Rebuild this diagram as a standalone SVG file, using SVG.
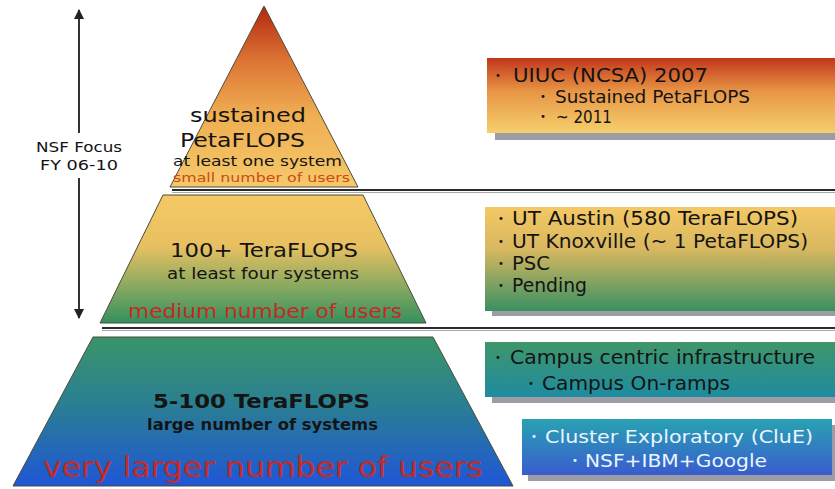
<svg xmlns="http://www.w3.org/2000/svg" width="835" height="489" viewBox="0 0 835 489">
<defs>
<linearGradient id="gTop" x1="0" y1="0" x2="0" y2="1">
<stop offset="0" stop-color="#b3260f"/>
<stop offset="0.3" stop-color="#dc7434"/>
<stop offset="0.6" stop-color="#efae52"/>
<stop offset="1" stop-color="#f5c96a"/>
</linearGradient>
<linearGradient id="gMid" x1="0" y1="0" x2="0" y2="1">
<stop offset="0" stop-color="#f5c865"/>
<stop offset="0.4" stop-color="#e8c061"/>
<stop offset="0.75" stop-color="#7ea660"/>
<stop offset="1" stop-color="#33905e"/>
</linearGradient>
<linearGradient id="gBot" x1="0" y1="0" x2="0" y2="1">
<stop offset="0" stop-color="#3a946a"/>
<stop offset="0.45" stop-color="#2a7f92"/>
<stop offset="1" stop-color="#1f56d6"/>
</linearGradient>
<linearGradient id="gB1" x1="0" y1="0" x2="0" y2="1">
<stop offset="0" stop-color="#c2361a"/>
<stop offset="0.45" stop-color="#e89646"/>
<stop offset="1" stop-color="#f6cf6c"/>
</linearGradient>
<linearGradient id="gB2" x1="0" y1="0" x2="0" y2="1">
<stop offset="0" stop-color="#f4c864"/>
<stop offset="0.4" stop-color="#d9b860"/>
<stop offset="1" stop-color="#3a9062"/>
</linearGradient>
<linearGradient id="gB3" x1="0" y1="0" x2="0" y2="1">
<stop offset="0" stop-color="#3f966a"/>
<stop offset="1" stop-color="#1e8ca0"/>
</linearGradient>
<linearGradient id="gB4" x1="0" y1="0" x2="0" y2="1">
<stop offset="0" stop-color="#28a2b2"/>
<stop offset="1" stop-color="#3a5ccf"/>
</linearGradient>
<marker id="arr" viewBox="0 0 10 10" refX="9" refY="5" markerWidth="10" markerHeight="10" markerUnits="userSpaceOnUse" orient="auto">
<path d="M0,0 L10,5 L0,10 z" fill="#222"/>
</marker>
<style>
text{font-family:"DejaVu Sans","Liberation Sans",sans-serif;fill:#141414}
.tier{stroke:#4b4b3c;stroke-width:1}
.red{fill:#c42a26}
.org{fill:#cf4a16}
.wht{fill:#eaf6ff}
.shadow{fill:#9c9ca4}
.sep{stroke:#2a2a2a;stroke-width:2}
.sep2{stroke:#a8a8a8;stroke-width:1}
.bul{font-size:10px}
</style>
</defs>

<g id="focus">
<line x1="79" y1="318" x2="79" y2="178" stroke="#333" stroke-width="2" marker-end="url(#arr)" transform="rotate(180 79 248)"/>
<line x1="79" y1="133" x2="79" y2="10" stroke="#333" stroke-width="2" marker-end="url(#arr)"/>
<text x="79" y="152" font-size="14" text-anchor="middle" textLength="86" lengthAdjust="spacingAndGlyphs">NSF Focus</text>
<text x="79" y="170" font-size="14" text-anchor="middle" textLength="78" lengthAdjust="spacingAndGlyphs">FY 06-10</text>
</g>

<g id="connectors">
<line class="sep" x1="172" y1="190" x2="835" y2="190"/>
<line class="sep2" x1="172" y1="192.5" x2="835" y2="192.5"/>
<line class="sep" x1="102" y1="328" x2="835" y2="328"/>
<line class="sep2" x1="102" y1="330.5" x2="835" y2="330.5"/>
</g>

<g id="tier-top">
<polygon class="tier" points="264,6 358,187 170,187" fill="url(#gTop)"/>
<text x="190" y="122" font-size="19" textLength="116" lengthAdjust="spacingAndGlyphs">sustained</text>
<text x="180" y="147" font-size="20" textLength="125" lengthAdjust="spacingAndGlyphs">PetaFLOPS</text>
<text x="173" y="166" font-size="14" textLength="169" lengthAdjust="spacingAndGlyphs">at least one system</text>
<text class="org" x="173" y="182" font-size="13" textLength="177" lengthAdjust="spacingAndGlyphs">small number of users</text>
</g>

<g id="tier-mid">
<polygon class="tier" points="163,195 363,195 426,323 100,323" fill="url(#gMid)"/>
<text x="170" y="257" font-size="20" textLength="188" lengthAdjust="spacingAndGlyphs">100+ TeraFLOPS</text>
<text x="167" y="279" font-size="16" textLength="192" lengthAdjust="spacingAndGlyphs">at least four systems</text>
<text class="red" x="128" y="318" font-size="20" textLength="274" lengthAdjust="spacingAndGlyphs">medium number of users</text>
</g>

<g id="tier-bottom">
<polygon class="tier" points="93,337 433,337 513,486 13,486" fill="url(#gBot)"/>
<text x="153" y="408" font-size="19" font-weight="bold" textLength="217" lengthAdjust="spacingAndGlyphs">5-100 TeraFLOPS</text>
<text x="147" y="430" font-size="15" font-weight="bold" textLength="231" lengthAdjust="spacingAndGlyphs">large number of systems</text>
<text class="red" x="43" y="477" font-size="29" textLength="440" lengthAdjust="spacingAndGlyphs">very larger number of users</text>
</g>

<g id="box-petascale">
<rect class="shadow" x="495" y="64" width="345" height="76"/>
<rect x="487" y="58" width="350" height="75" fill="url(#gB1)"/>
<text class="bul" x="495" y="79">•</text>
<text x="513" y="82" font-size="20" textLength="195" lengthAdjust="spacingAndGlyphs">UIUC (NCSA) 2007</text>
<text class="bul" x="540" y="100">•</text>
<text x="555" y="103" font-size="17" textLength="195" lengthAdjust="spacingAndGlyphs">Sustained PetaFLOPS</text>
<text class="bul" x="540" y="120">•</text>
<text x="556" y="123" font-size="17" textLength="56" lengthAdjust="spacingAndGlyphs">~ 2011</text>
</g>

<g id="box-tera">
<rect class="shadow" x="492" y="213" width="345" height="103"/>
<rect x="485" y="207" width="352" height="104" fill="url(#gB2)"/>
<text class="bul" x="498" y="222">•</text>
<text x="512" y="225" font-size="19" textLength="286" lengthAdjust="spacingAndGlyphs">UT Austin (580 TeraFLOPS)</text>
<text class="bul" x="498" y="245">•</text>
<text x="512" y="248" font-size="19" textLength="296" lengthAdjust="spacingAndGlyphs">UT Knoxville (~ 1 PetaFLOPS)</text>
<text class="bul" x="498" y="267">•</text>
<text x="512" y="270" font-size="19" textLength="38" lengthAdjust="spacingAndGlyphs">PSC</text>
<text class="bul" x="498" y="289">•</text>
<text x="512" y="292" font-size="19" textLength="75" lengthAdjust="spacingAndGlyphs">Pending</text>
</g>

<g id="box-campus">
<rect class="shadow" x="492" y="348" width="345" height="55"/>
<rect x="485" y="342" width="352" height="55" fill="url(#gB3)"/>
<text class="bul" x="495" y="361">•</text>
<text x="510" y="364" font-size="19" textLength="305" lengthAdjust="spacingAndGlyphs">Campus centric infrastructure</text>
<text class="bul" x="528" y="387">•</text>
<text x="542" y="390" font-size="19" textLength="188" lengthAdjust="spacingAndGlyphs">Campus On-ramps</text>
</g>

<g id="box-clue">
<rect class="shadow" x="528" y="425" width="307" height="56"/>
<rect x="522" y="419" width="310" height="56" fill="url(#gB4)"/>
<text class="bul wht" x="531" y="440">•</text>
<text class="wht" x="545" y="443" font-size="18" textLength="268" lengthAdjust="spacingAndGlyphs">Cluster Exploratory (CluE)</text>
<text class="bul wht" x="572" y="464">•</text>
<text class="wht" x="585" y="467" font-size="18" textLength="182" lengthAdjust="spacingAndGlyphs">NSF+IBM+Google</text>
</g>
</svg>
